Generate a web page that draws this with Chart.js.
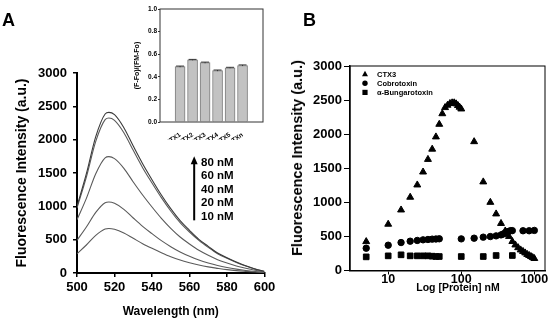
<!DOCTYPE html>
<html lang="en">
<head>
  <meta charset="UTF-8" />
  <title>CTX3 fluorescence titration</title>
  <script src="https://cdn.jsdelivr.net/npm/chart.js"></script>
  <style>
    body {
      margin: 0;
      background: #fff;
      font-family: "Liberation Sans", Arial, sans-serif;
    }
    .wrap {
      position: relative;
      width: 550px;
      height: 321px;
      overflow: hidden;
    }
    canvas { position: absolute; }
    #chartA { left: 0; top: 0; }
    #inset { left: 125px; top: 0; }
    #chartB { left: 280px; top: 0; }
    .panel {
      position: absolute;
      font-weight: bold;
      font-size: 18px;
      line-height: 18px;
    }
    .conc {
      position: absolute;
      left: 201px;
      top: 155.6px;
      font-weight: bold;
      font-size: 11.5px;
      line-height: 13.6px;
    }
    .axtitle {
      position: absolute;
      font-weight: bold;
      white-space: nowrap;
      transform: translate(-50%, -50%);
    }
  </style>
</head>
<body>
  <div class="wrap">
    <canvas id="chartA" width="280" height="321"></canvas>
    <canvas id="inset" width="145" height="140"></canvas>
    <canvas id="chartB" width="270" height="321"></canvas>
    <div class="panel" style="left:2px; top:10.6px;">A</div>
    <div class="panel" style="left:303px; top:10.6px;">B</div>
    <div class="conc" id="concList"></div>
    <div class="axtitle" style="left:297px; top:157.5px; font-size:14.5px; transform:translate(-50%,-50%) rotate(-90deg);">Fluorescence Intensity (a.u.)</div>
    <div class="axtitle" style="left:458px; top:287px; font-size:10.5px;">Log [Protein] nM</div>
  </div>

  <script>
    // ---- panel A: emission spectra ----
    const wavelengths = [500, 505, 510, 515, 517, 520, 525, 530, 535, 540, 545, 550, 555, 560, 565, 570, 575, 580, 585, 590, 595, 600];
    const nM80 = [1000, 1490, 2045, 2385, 2410, 2375, 2180, 1905, 1640, 1400, 1170, 965, 785, 640, 505, 400, 300, 230, 165, 108, 60, 25];
    const nM60 = [975, 1440, 1975, 2300, 2325, 2290, 2105, 1840, 1580, 1350, 1130, 930, 755, 615, 490, 385, 290, 220, 158, 105, 58, 23];
    const nM40 = [800, 1120, 1490, 1728, 1745, 1715, 1570, 1365, 1170, 990, 820, 670, 540, 435, 340, 265, 200, 150, 105, 70, 40, 15];
    const nM20 = [490, 690, 910, 1055, 1065, 1045, 955, 825, 700, 590, 485, 395, 315, 250, 195, 150, 112, 82, 58, 38, 22, 10];
    const nM10 = [290, 420, 565, 660, 668, 655, 600, 520, 440, 370, 305, 245, 195, 155, 120, 92, 70, 50, 35, 24, 14, 6];
    const concLabels = ['80 nM', '60 nM', '40 nM', '20 nM', '10 nM'];

    // ---- inset: normalised binding ----
    const toxins = ['CTX1', 'CTX2', 'CTX3', 'CTX4', 'CTX5', 'CTXn'];
    const binding = [0.49, 0.55, 0.525, 0.455, 0.48, 0.50];
    const bindingErr = [0.005, 0.004, 0.005, 0.005, 0.004, 0.005];

    // ---- panel B: titration ----
    const ctx3Conc = [5, 10, 15, 20, 25, 30, 35, 40, 45, 50, 55, 60, 65, 70, 75, 80, 85, 90, 95, 100, 150, 200, 250, 300, 350, 400, 450, 500, 550, 600, 650, 700, 750, 800, 850, 900, 950, 1000];
    const ctx3Fl = [424, 679, 888, 1075, 1255, 1445, 1630, 1780, 1960, 2145, 2300, 2390, 2425, 2450, 2460, 2460, 2445, 2420, 2395, 2370, 1890, 1300, 1000, 830, 690, 580, 500, 425, 375, 335, 302, 280, 258, 236, 220, 205, 190, 176];
    const cbtxConc = [5, 10, 15, 20, 25, 30, 35, 40, 45, 50, 100, 150, 200, 250, 300, 350, 375, 400, 425, 450, 475, 500, 700, 850, 1000];
    const cbtxFl = [327, 371, 410, 430, 441, 450, 455, 460, 462, 465, 464, 474, 489, 498, 508, 522, 535, 550, 565, 575, 585, 585, 583, 583, 588];
    const bgtConc = [5, 10, 15, 20, 25, 30, 35, 40, 45, 50, 100, 200, 300, 500];
    const bgtFl = [200, 215, 230, 215, 215, 215, 215, 210, 205, 205, 205, 205, 220, 220];
    const logTicks = [10, 100, 1000];

    Chart.defaults.font.family = '"Liberation Sans", Arial, sans-serif';
    Chart.defaults.color = '#000';

    document.getElementById('concList').innerHTML = concLabels.join('<br>');

    const bold = size => ({ size: size, weight: 'bold' });
    const plain = v => String(v);   // no thousands separator

    // arrow next to the concentration list (data units of panel A)
    const arrowAt = { x: 562.5, from: 790, to: 1750 };
    const arrowPlugin = {
      id: 'concArrow',
      afterDatasetsDraw(chart) {
        const { ctx, scales: { x, y } } = chart;
        const px = x.getPixelForValue(arrowAt.x);
        const y0 = y.getPixelForValue(arrowAt.from);
        const y1 = y.getPixelForValue(arrowAt.to);
        ctx.save();
        ctx.strokeStyle = '#000';
        ctx.fillStyle = '#000';
        ctx.lineWidth = 2;
        ctx.beginPath();
        ctx.moveTo(px, y0);
        ctx.lineTo(px, y1 + 6);
        ctx.stroke();
        ctx.beginPath();
        ctx.moveTo(px, y1);
        ctx.lineTo(px + 3.5, y1 + 8);
        ctx.lineTo(px - 3.5, y1 + 8);
        ctx.closePath();
        ctx.fill();
        ctx.restore();
      }
    };

    const boxPlugin = {
      id: 'frame',
      afterDatasetsDraw(chart, args, opts) {
        const { ctx, chartArea: a } = chart;
        ctx.save();
        ctx.strokeStyle = opts.color || '#000';
        ctx.lineWidth = opts.width || 1;
        ctx.strokeRect(a.left, a.top, a.right - a.left, a.bottom - a.top);
        ctx.restore();
      }
    };

    const errorPlugin = {
      id: 'errBars',
      afterDatasetsDraw(chart) {
        const { ctx, scales: { y } } = chart;
        const bars = chart.getDatasetMeta(0).data;
        ctx.save();
        ctx.strokeStyle = '#333';
        ctx.lineWidth = 1;
        bars.forEach((bar, i) => {
          const top = y.getPixelForValue(binding[i] + bindingErr[i]);
          const bot = y.getPixelForValue(binding[i] - bindingErr[i]);
          ctx.beginPath();
          ctx.moveTo(bar.x, top);
          ctx.lineTo(bar.x, bot);
          ctx.moveTo(bar.x - 4, top);
          ctx.lineTo(bar.x + 4, top);
          ctx.stroke();
        });
        ctx.restore();
      }
    };

    const legendPlugin = {
      id: 'innerLegend',
      afterDatasetsDraw(chart) {
        const { ctx, chartArea: a } = chart;
        ctx.save();
        ctx.fillStyle = '#000';
        ctx.font = 'bold 7.5px "Liberation Sans", Arial, sans-serif';
        ctx.textBaseline = 'middle';
        chart.data.datasets.forEach((ds, i) => {
          const x = a.left + 15;
          const y = a.top + 8 + i * 9.2;
          ctx.beginPath();
          if (ds.pointStyle === 'triangle') {
            ctx.moveTo(x, y - 3.2);
            ctx.lineTo(x + 3, y + 2.2);
            ctx.lineTo(x - 3, y + 2.2);
            ctx.closePath();
          } else if (ds.pointStyle === 'circle') {
            ctx.arc(x, y, 2.7, 0, Math.PI * 2);
          } else {
            ctx.rect(x - 2.6, y - 2.6, 5.2, 5.2);
          }
          ctx.fill();
          ctx.fillText(ds.label, a.left + 27, y + 0.5);
        });
        ctx.restore();
      }
    };

    // panel A
    const spectra = [nM80, nM60, nM40, nM20, nM10];
    new Chart(document.getElementById('chartA'), {
      type: 'line',
      data: {
        datasets: spectra.map((s, i) => ({
          label: concLabels[i],
          data: wavelengths.map((w, j) => ({ x: w, y: s[j] })),
          borderColor: i === 0 ? '#3a3a3a' : '#5a5a5a',
          borderWidth: 1.1,
          pointRadius: 0,
          cubicInterpolationMode: 'monotone',
          fill: false
        }))
      },
      options: {
        responsive: false,
        animation: false,
        layout: { padding: { top: 73, right: 15.5, bottom: 0, left: 0 } },
        plugins: { legend: { display: false }, tooltip: { enabled: false } },
        scales: {
          x: {
            type: 'linear', min: 500, max: 600,
            ticks: { stepSize: 20, callback: plain, font: bold(13), padding: 3 },
            grid: { drawOnChartArea: false, tickLength: 4, color: '#000', lineWidth: 1.5 },
            border: { color: '#000', width: 2 },
            title: { display: true, text: 'Wavelength (nm)', font: bold(12), padding: { top: 0, bottom: 1.8 } },
            afterFit: s => { s.height = 48; }
          },
          y: {
            min: 0, max: 3000,
            ticks: { stepSize: 500, callback: plain, font: bold(13), padding: 6 },
            grid: { drawOnChartArea: false, tickLength: 4, color: '#000', lineWidth: 1.5 },
            border: { color: '#000', width: 2 },
            title: { display: true, text: 'Fluorescence Intensity (a.u.)', font: bold(14), padding: { top: 13.6, bottom: 0 } },
            afterFit: s => { s.width = 77; }
          }
        }
      },
      plugins: [arrowPlugin]
    });

    // inset
    new Chart(document.getElementById('inset'), {
      type: 'bar',
      data: {
        datasets: [{
          data: binding.map((v, i) => ({ x: i, y: v })),
          backgroundColor: '#c2c2c2',
          borderColor: '#7c7c7c',
          borderWidth: 1,
          barThickness: 10
        }]
      },
      options: {
        responsive: false,
        animation: false,
        layout: { padding: { top: 9, right: 7, bottom: 0, left: 0 } },
        plugins: { legend: { display: false }, tooltip: { enabled: false }, frame: { color: '#333', width: 1 } },
        scales: {
          x: {
            type: 'linear', min: -0.92, max: 5.95,
            afterBuildTicks: s => { s.ticks = toxins.map((t, i) => ({ value: i })); },
            ticks: { callback: v => toxins[v], autoSkip: false, minRotation: 35, maxRotation: 35, font: bold(6.5), padding: 1 },
            grid: { display: false },
            border: { display: false },
            afterFit: s => { s.height = 18; }
          },
          y: {
            min: 0, max: 1,
            ticks: { stepSize: 0.2, callback: v => v.toFixed(1), font: bold(6.5), padding: 1 },
            grid: { drawOnChartArea: false, tickLength: 2, color: '#333' },
            border: { display: false },
            title: { display: true, text: '(F-Fo)/(FM-Fo)', font: bold(7), padding: { top: 7.8, bottom: 0 } },
            afterFit: s => { s.width = 35; }
          }
        }
      },
      plugins: [boxPlugin, errorPlugin]
    });

    // panel B
    new Chart(document.getElementById('chartB'), {
      type: 'scatter',
      data: {
        datasets: [
          { label: 'CTX3', data: ctx3Conc.map((c, i) => ({ x: c, y: ctx3Fl[i] })), pointStyle: 'triangle', pointRadius: 4, backgroundColor: '#000', borderColor: '#000' },
          { label: 'Cobrotoxin', data: cbtxConc.map((c, i) => ({ x: c, y: cbtxFl[i] })), pointStyle: 'circle', pointRadius: 3.2, backgroundColor: '#000', borderColor: '#000' },
          { label: 'α-Bungarotoxin', data: bgtConc.map((c, i) => ({ x: c, y: bgtFl[i] })), pointStyle: 'rect', pointRadius: 4, backgroundColor: '#000', borderColor: '#000' }
        ]
      },
      options: {
        responsive: false,
        animation: false,
        layout: { padding: { top: 66, right: 4, bottom: 26, left: 0 } },
        plugins: { legend: { display: false }, tooltip: { enabled: false }, frame: { color: '#000', width: 1 } },
        scales: {
          x: {
            type: 'logarithmic', min: 3, max: 1400,
            afterBuildTicks: s => { s.ticks = logTicks.map(v => ({ value: v })); },
            ticks: { callback: plain, autoSkip: false, maxRotation: 0, font: bold(12.5), padding: -2 },
            grid: { drawOnChartArea: false, tickLength: 4, color: '#000' },
            border: { color: '#000', width: 1.5 },
            afterFit: s => { s.height = 24.5; }
          },
          y: {
            min: 0, max: 3000,
            ticks: { stepSize: 500, callback: plain, font: bold(13), padding: 2 },
            grid: { drawOnChartArea: false, tickLength: 6, color: '#000' },
            border: { color: '#000', width: 1.5 },
            afterFit: s => { s.width = 70; }
          }
        }
      },
      plugins: [boxPlugin, legendPlugin]
    });
  </script>
</body>
</html>
